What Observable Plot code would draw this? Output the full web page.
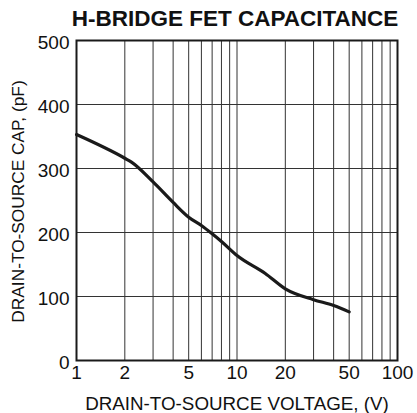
<!DOCTYPE html>
<html>
<head>
<meta charset="utf-8">
<script src="https://cdn.jsdelivr.net/npm/d3@7"></script>
<script src="https://cdn.jsdelivr.net/npm/@observablehq/plot@0.6"></script>
<style>
  html, body { margin: 0; padding: 0; background: #fff; }
  #wrap { width: 417px; font-family: "Liberation Sans", Arial, Helvetica, sans-serif; }
  #title { height: 26px; line-height: 26px; font-size: 22.5px; font-weight: bold; color: #111;
           text-align: center; padding-left: 53px; box-sizing: border-box; white-space: nowrap; padding-top: 6px; overflow: visible; }
</style>
</head>
<body>
<div id="wrap">
  <div id="title">H-BRIDGE FET CAPACITANCE</div>
  <div id="chart"></div>
</div>
<script>
const voltage = [1, 2, 2.2, 3, 4, 5, 6, 7, 8, 10, 15, 20, 30, 40, 50];
const capacitance = [353, 316, 310, 279, 247, 224, 211, 198, 186, 164, 136, 112, 95, 86, 76];
const xTicks = [1, 2, 5, 10, 20, 50, 100];
const yTicks = [0, 100, 200, 300, 400, 500];
const xGrid = [2, 3, 4, 5, 6, 7, 8, 9, 10, 20, 30, 40, 50, 60, 70, 80, 90];
const yGrid = [100, 200, 300, 400];
const xLabel = "DRAIN-TO-SOURCE VOLTAGE, (V)";
const yLabel = "DRAIN-TO-SOURCE CAP, (pF)";

const data = voltage.map((v, i) => ({v, c: capacitance[i]}));

const chart = Plot.plot({
  width: 417,
  height: 387,
  marginLeft: 76,
  marginRight: 20,
  marginTop: 14,
  marginBottom: 53,
  style: {fontFamily: '"Liberation Sans", Arial, Helvetica, sans-serif', fontSize: "19px", color: "#111", background: "#fff"},
  x: {type: "log", domain: [1, 100], axis: null},
  y: {domain: [0, 500], axis: null},
  marks: [
    Plot.ruleX(xGrid, {stroke: "#333", strokeWidth: 1}),
    Plot.ruleY(yGrid, {stroke: "#333", strokeWidth: 1}),
    Plot.line(data, {x: "v", y: "c", stroke: "#1a1a1a", strokeWidth: 3.2, curve: "monotone-x"}),
    Plot.frame({stroke: "#1a1a1a", strokeWidth: 2}),
    Plot.text(xTicks, {x: d => d, frameAnchor: "bottom", lineAnchor: "top", dy: 5, text: d => String(d), fontSize: 19, fill: "#111"}),
    Plot.text(yTicks, {y: d => d, frameAnchor: "left", textAnchor: "end", dx: -7, dy: 2, text: d => String(d), fontSize: 19, fill: "#111"}),
    Plot.text([xLabel], {frameAnchor: "bottom", lineAnchor: "middle", textAnchor: "middle", dy: 43, fontSize: 18.8, fill: "#111"}),
    Plot.text([yLabel], {frameAnchor: "left", lineAnchor: "middle", textAnchor: "middle", dx: -58, dy: 1, rotate: -90, fontSize: 17.3, fill: "#111"})
  ]
});
document.getElementById("chart").appendChild(chart);
</script>
</body>
</html>
